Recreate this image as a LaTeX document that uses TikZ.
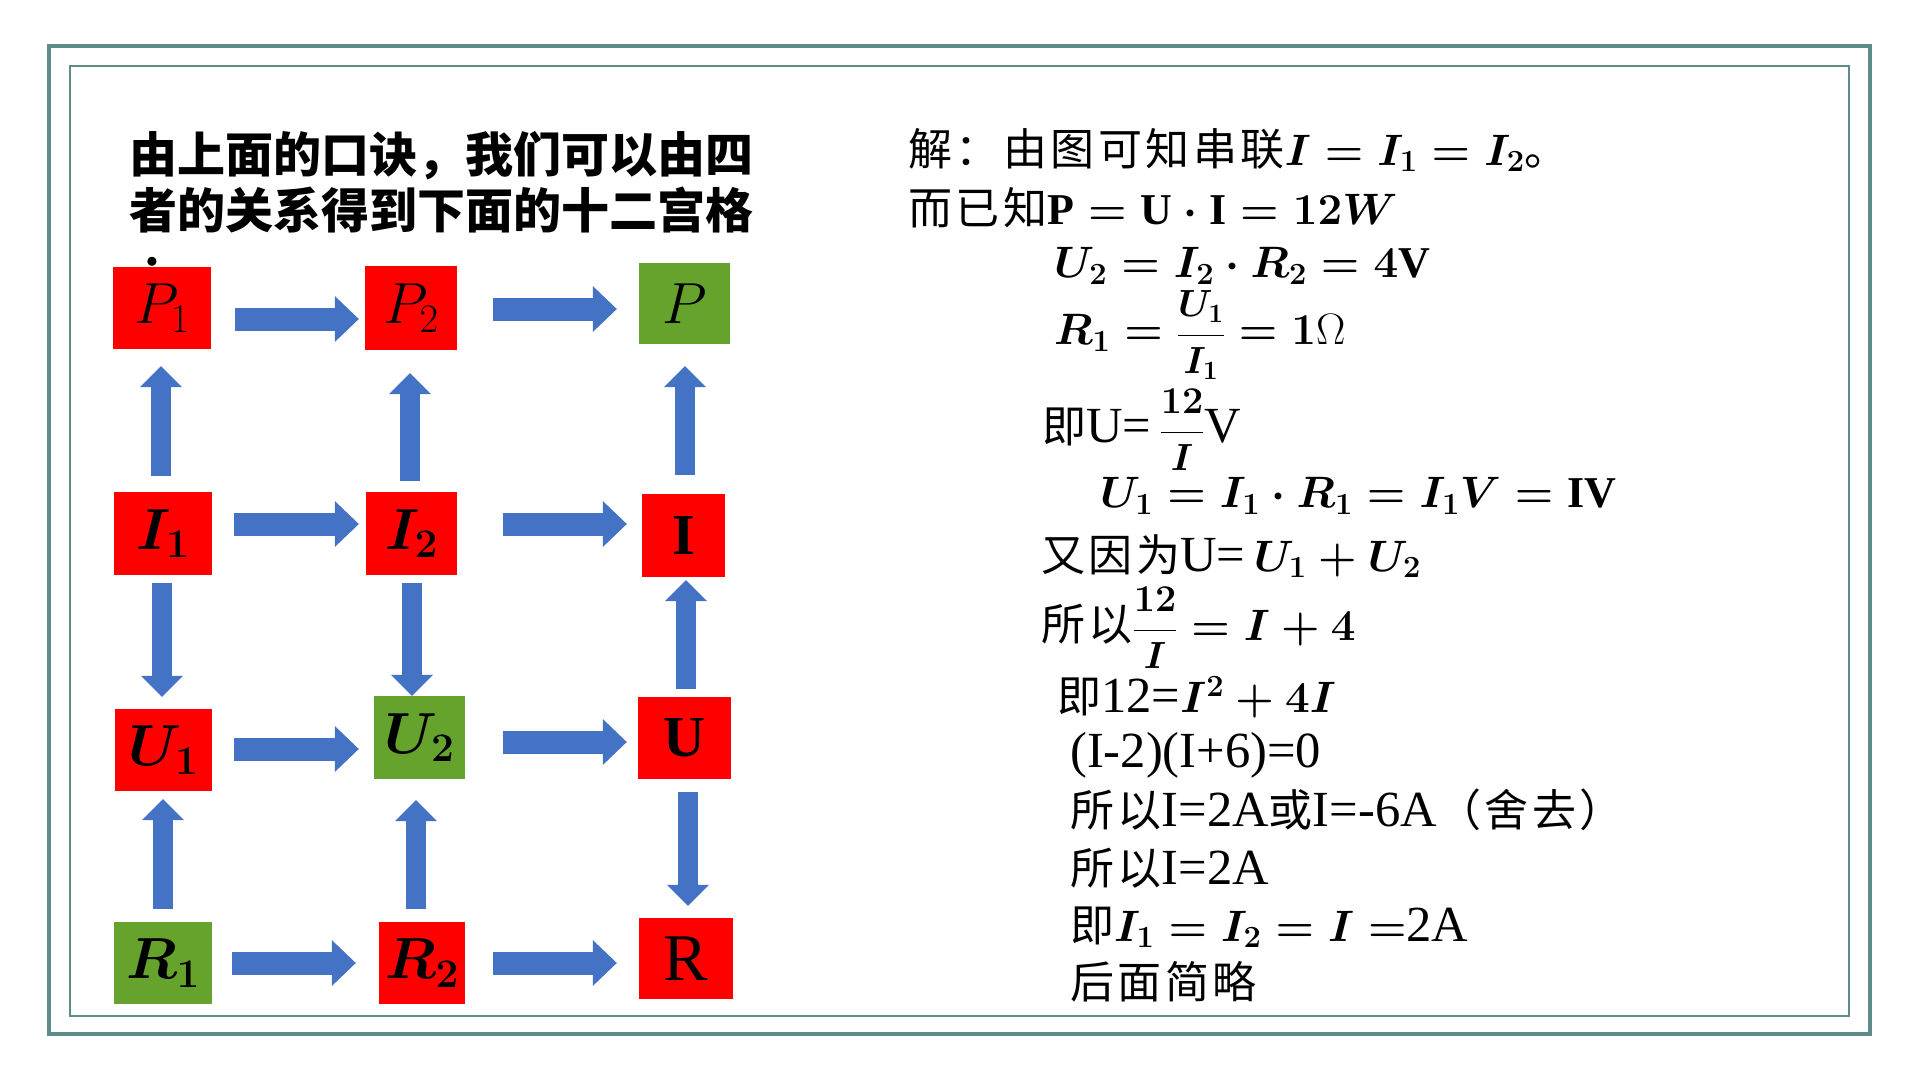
\RequirePackage{fix-cm}
\documentclass[tikz,border=0pt]{standalone}
\usepackage{amsmath}
\usepackage{graphicx}
\usepackage{fontspec}
\setmainfont{Liberation Serif}[Scale=1.15]
\setmathrm{Liberation Serif}
\newfontfamily\cjk[LetterSpace=8]{Noto Sans CJK SC}
\newfontfamily\cjkhead{Noto Sans CJK SC}
\usetikzlibrary{arrows.meta}
\definecolor{GridRed}{HTML}{FF0000}
\definecolor{GridGreen}{HTML}{66A32C}
\definecolor{GridBlue}{HTML}{4472C4}
\definecolor{GridFrame}{HTML}{5E8C8A}
\newcommand{\headfont}{\fontsize{48}{56}\selectfont}
\newcommand{\cellfont}{\fontsize{58}{64}\selectfont}
\newcommand{\solfont}{\fontsize{44}{54}\selectfont}
\newcommand{\zh}[1]{{\cjk #1}}
\newcommand{\bmath}[1]{{\boldmath$#1$}}
\newcommand{\sfrac}[2]{\scalebox{0.86}{$\dfrac{#1}{#2}$}}

\begin{document}
\begin{tikzpicture}[x=1pt, y=-1pt, font=\solfont,
    cell/.style={inner sep=0pt, font=\cellfont},
    sol/.style={anchor=west, inner sep=0pt},
    hflow/.style={draw=GridBlue, line width=23pt,
      -{Triangle[length=24pt, width=46pt, line width=0pt]}},
    vflow/.style={draw=GridBlue, line width=20pt,
      -{Triangle[length=21pt, width=42pt, line width=0pt]}}]
    \useasboundingbox (0,0) rectangle (1920,1080);
    % double frame
    \draw[GridFrame, line width=4pt] (49,46) rectangle (1870,1034);
    \draw[GridFrame, line width=2pt] (70,66) rectangle (1849,1016);
    % heading (base = baseline of its last line)
    \node[anchor=base west, align=left, inner sep=0pt,
          font={\headfont\cjkhead\bfseries}] (head) at (129,228)
      {由上面的口诀，我们可以由四\\者的关系得到下面的十二宫格};
    \node[inner sep=0pt, font={\headfont\bfseries}] (headdot) at (152,262) {.};
    % the twelve cells
    \node[cell, fill=GridRed, minimum width=98pt, minimum height=82pt] (p1) at (162,308) {$P_1$};
    \node[cell, fill=GridRed, minimum width=92pt, minimum height=84pt] (p2) at (411,308) {$P_2$};
    \node[cell, fill=GridGreen, minimum width=91pt, minimum height=81pt] (p) at (684.5,303.5) {$P$};
    \node[cell, fill=GridRed, minimum width=98pt, minimum height=83pt] (i1) at (163,533.5) {\bmath{I_1}};
    \node[cell, fill=GridRed, minimum width=91pt, minimum height=83pt] (i2) at (411.5,533.5) {\bmath{I_2}};
    \node[cell, fill=GridRed, minimum width=83pt, minimum height=83pt] (i) at (683.5,535.5) {\bmath{\mathrm{I}}};
    \node[cell, fill=GridRed, minimum width=97pt, minimum height=82pt] (u1) at (163.5,750) {\bmath{U_1}};
    \node[cell, fill=GridGreen, minimum width=91pt, minimum height=83pt] (u2) at (419.5,737.5) {\bmath{U_2}};
    \node[cell, fill=GridRed, minimum width=93pt, minimum height=82pt] (u) at (684.5,738) {\bmath{\mathrm{U}}};
    \node[cell, fill=GridGreen, minimum width=98pt, minimum height=82pt] (r1) at (163,963) {\bmath{R_1}};
    \node[cell, fill=GridRed, minimum width=86pt, minimum height=82pt] (r2) at (422,963) {\bmath{R_2}};
    \node[cell, fill=GridRed, minimum width=94pt, minimum height=81pt] (r) at (686,958.5) {R};
    % rows
    \draw[hflow, shorten <=24pt, shorten >=6pt] ([yshift=-11pt]p1.east) -- ([yshift=-11pt]p2.west);
    \draw[hflow, shorten <=36pt, shorten >=22pt] ([yshift=-1pt]p2.east) -- ([yshift=-5.5pt]p.west);
    \draw[hflow, shorten <=22pt, shorten >=7pt] ([yshift=9.5pt]i1.east) -- ([yshift=9.5pt]i2.west);
    \draw[hflow, shorten <=46pt, shorten >=15pt] ([yshift=9.5pt]i2.east) -- ([yshift=11.5pt]i.west);
    \draw[hflow, shorten <=22pt, shorten >=15pt] ([yshift=1pt]u1.east) -- ([yshift=-11.5pt]u2.west);
    \draw[hflow, shorten <=38pt, shorten >=11pt] ([yshift=-4.5pt]u2.east) -- ([yshift=-4pt]u.west);
    \draw[hflow, shorten <=20pt, shorten >=23pt] (r1.east) -- (r2.west);
    \draw[hflow, shorten <=28pt, shorten >=22pt] (r2.east) -- ([yshift=-4.5pt]r.west);
    % columns
    \draw[vflow, shorten <=16pt, shorten >=17pt] ([xshift=-2pt]i1.north) -- ([xshift=-1pt]p1.south);
    \draw[vflow, shorten <=11pt, shorten >=23pt] ([xshift=-1.5pt]i2.north) -- ([xshift=-1pt]p2.south);
    \draw[vflow, shorten <=19pt, shorten >=22pt] ([xshift=1.5pt]i.north) -- ([xshift=0.5pt]p.south);
    \draw[vflow, shorten <=8pt, shorten >=12pt] ([xshift=-1pt]i1.south) -- ([xshift=-1.5pt]u1.north);
    \draw[vflow, shorten <=8pt, shorten >=0pt] ([xshift=0.5pt]i2.south) -- ([xshift=-7.5pt]u2.north);
    \draw[vflow, shorten <=8pt, shorten >=3pt] ([xshift=1.5pt]u.north) -- ([xshift=2.5pt]i.south);
    \draw[vflow, shorten <=13pt, shorten >=8pt] (r1.north) -- ([xshift=-0.5pt]u1.south);
    \draw[vflow, shorten <=13pt, shorten >=21pt] ([xshift=-6pt]r2.north) -- ([xshift=-3.5pt]u2.south);
    \draw[vflow, shorten <=13pt, shorten >=12pt] ([xshift=3.5pt]u.south) -- ([xshift=2pt]r.north);
    % worked solution
    \node[sol] (sol1) at (908,150) {\zh{解：由图可知串联}\bmath{I = I_1 = I_2}\zh{。}};
    \node[sol] (sol2) at (908,208) {\zh{而已知}\bmath{\mathrm{P} = \mathrm{U}\cdot\mathrm{I} = 12W}};
    \node[sol] (sol3) at (1054,266) {\bmath{U_2 = I_2\cdot R_2 = 4\mathrm{V}}};
    \node[sol] (sol4) at (1054,335) {\bmath{R_1 = \sfrac{U_1}{I_1} = 1}$\Omega$};
    \node[sol] (sol5) at (1042,430) {\zh{即}U=\,\bmath{\sfrac{12}{I}}V};
    \node[sol] (sol6) at (1100,496) {\bmath{U_1 = I_1\cdot R_1 = I_1V = \mathrm{IV}}};
    \node[sol] (sol7) at (1041,556) {\zh{又因为}U=\,\bmath{U_1 + U_2}};
    \node[sol] (sol8) at (1041,628) {\zh{所以}\bmath{\sfrac{12}{I} = I + 4}};
    \node[sol] (sol9) at (1057,697) {\zh{即}12=\bmath{I^2 + 4I}};
    \node[sol] (sol10) at (1070,755) {(I-2)(I+6)=0};
    \node[sol] (sol11) at (1070,810) {\zh{所以}I=2A\zh{或}I=-6A\zh{（舍去）}};
    \node[sol] (sol12) at (1070,868) {\zh{所以}I=2A};
    \node[sol] (sol13) at (1070,927) {\zh{即}\bmath{I_1 = I_2 = I =}2A};
    \node[sol] (sol14) at (1070,982) {\zh{后面简略}};
\end{tikzpicture}
\end{document}
